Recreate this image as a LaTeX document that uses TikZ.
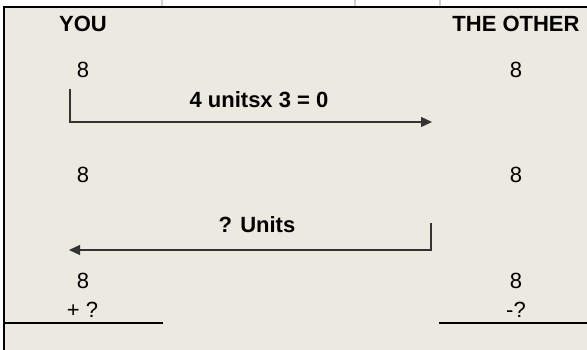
\documentclass[tikz,border=0pt]{standalone}
\usepackage{fontspec}
\setmainfont{Liberation Sans}
\usetikzlibrary{arrows.meta}
\definecolor{sheet}{RGB}{236,233,224}
\definecolor{cellgrid}{RGB}{208,208,208}

\begin{document}
\begin{tikzpicture}[x=1pt, y=-1pt,
        lbl/.style={inner sep=0pt, font=\fontsize{22}{26}\selectfont},
        hdr/.style={inner sep=0pt, font=\bfseries\fontsize{22}{26}\selectfont},
        flow/.style={draw=black!80, line width=1.2pt, -{Triangle[length=11pt, width=10pt]}},
        rule/.style={line width=2pt}]
        \useasboundingbox (0,0) rectangle (587,350);
        \fill[white] (0,0) rectangle (587,7);
        \fill[sheet] (4,7) rectangle (587,350);
        \draw[cellgrid, line width=1.5pt]
            (162,0) -- ++(0,7)
            (355,0) -- ++(0,7)
            (440,0) -- ++(0,7);
        \draw[rule] (4,350) -- (4,7) -- (587,7);

        % headers
        \node[hdr] (you) at (83,23.5) {YOU};
        \node[hdr] (other) at (516,23.5) {THE OTHER};

        % amounts
        \node[lbl] (you1) at (83,70) {8};
        \node[lbl] (other1) at (516,70) {8};
        \node[lbl] (you2) at (83,175) {8};
        \node[lbl] (other2) at (516,175) {8};
        \node[lbl] (you3) at (83,281) {8};
        \node[lbl] (other3) at (516,281) {8};
        \node[lbl] (youq) at (82.5,310) {+ ?};
        \node[lbl] (otherq) at (516,310) {-?};

        % transfers
        \node[hdr] (give) at (259,99.5) {4 unitsx 3 = 0};
        \node[hdr] (back) at (257,225) {? Units};
        \coordinate (giveS) at (70,89);
        \coordinate (giveE) at (432,122);
        \coordinate (backS) at (431,223);
        \coordinate (backE) at (69,250);
        \draw[flow] (giveS) |- (giveE);
        \draw[flow] (backS) |- (backE);

        % sum lines
        \coordinate (youL) at (4,323);
        \coordinate (youR) at (163,323);
        \coordinate (otherL) at (439,323);
        \coordinate (otherR) at (587,323);
        \draw[rule]
            (youL) -- (youR)
            (otherL) -- (otherR);
    \end{tikzpicture}
\end{document}
